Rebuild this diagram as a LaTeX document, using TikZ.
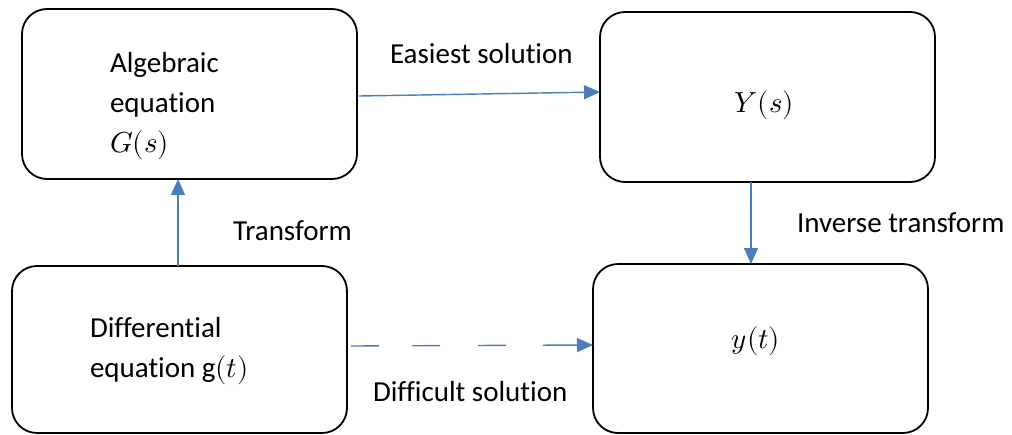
\documentclass[tikz,border=0pt]{standalone}
\usepackage{fontspec}
\usepackage{unicode-math}
\setmainfont{Carlito}[Ligatures={NoCommon}]
\setmathfont{Latin Modern Math}
\usetikzlibrary{arrows.meta,calc}
\definecolor{linkblue}{RGB}{74,126,187}
\tikzset{
  stage/.style={draw=black, line width=1.8pt, rounded corners=25pt,
    minimum width=335pt, inner sep=0pt, outer sep=0pt},
  txt/.style={inner sep=0pt, outer sep=0pt, font=\fontsize{29}{40}\selectfont},
  link/.style={draw=linkblue, line width=1.4pt,
    -{Triangle[length=16pt,width=14pt]}},
}
\begin{document}
\begin{tikzpicture}[x=1pt,y=-1pt]
  \useasboundingbox (0,0) rectangle (1012,434);
  % stages
  \node[stage, minimum height=170pt] (alg) at (189.5,94) {};
  \node[stage, minimum height=170pt] (Ys)  at (767.5,97) {};
  \node[stage, minimum height=167pt] (dif) at (179.5,349.5) {};
  \node[stage, minimum height=169pt] (yt)  at (760.5,348.5) {};
  % stage contents (base anchor sits on the last line)
  \node[txt, anchor=base west, align=left] (algtxt) at (110,152)
    {Algebraic\\equation\\$G(s)$};
  \node[txt, anchor=base west, align=left] (diftxt) at (90,377)
    {Differential\\equation g$(t)$};
  \node[txt, anchor=base] (Ystxt) at (764.5,112) {$Y(s)$};
  \node[txt, anchor=base] (yttxt) at (756,348) {$y(t)$};
  % connectors
  \draw[link] ($(alg.east)+(2,2)$) -- ($(Ys.west)+(0,-5)$);
  \draw[link] (dif.north -| 178,0) -- (alg.south -| 178,0);
  \coordinate (invtop) at ($(Ys.south)+(-16.5,0)$);
  \draw[link] (invtop) -- (invtop |- yt.north);
  \draw[link, dash pattern=on 28pt off 33pt on 28pt off 38pt on 28pt off 37pt on 80pt]
    ($(dif.east)+(4,-3.5)$) -- ($(yt.west)+(0,-3.5)$);
  % connector labels
  \node[txt, anchor=base west] (easy) at (390,63) {Easiest solution};
  \node[txt, anchor=base west] (trans) at (233,240) {Transform};
  \node[txt, anchor=base west] (inv) at (797,232.5) {Inverse transform};
  \node[txt, anchor=base west] (hard) at (373,401.5) {Difficult solution};
\end{tikzpicture}
\end{document}
